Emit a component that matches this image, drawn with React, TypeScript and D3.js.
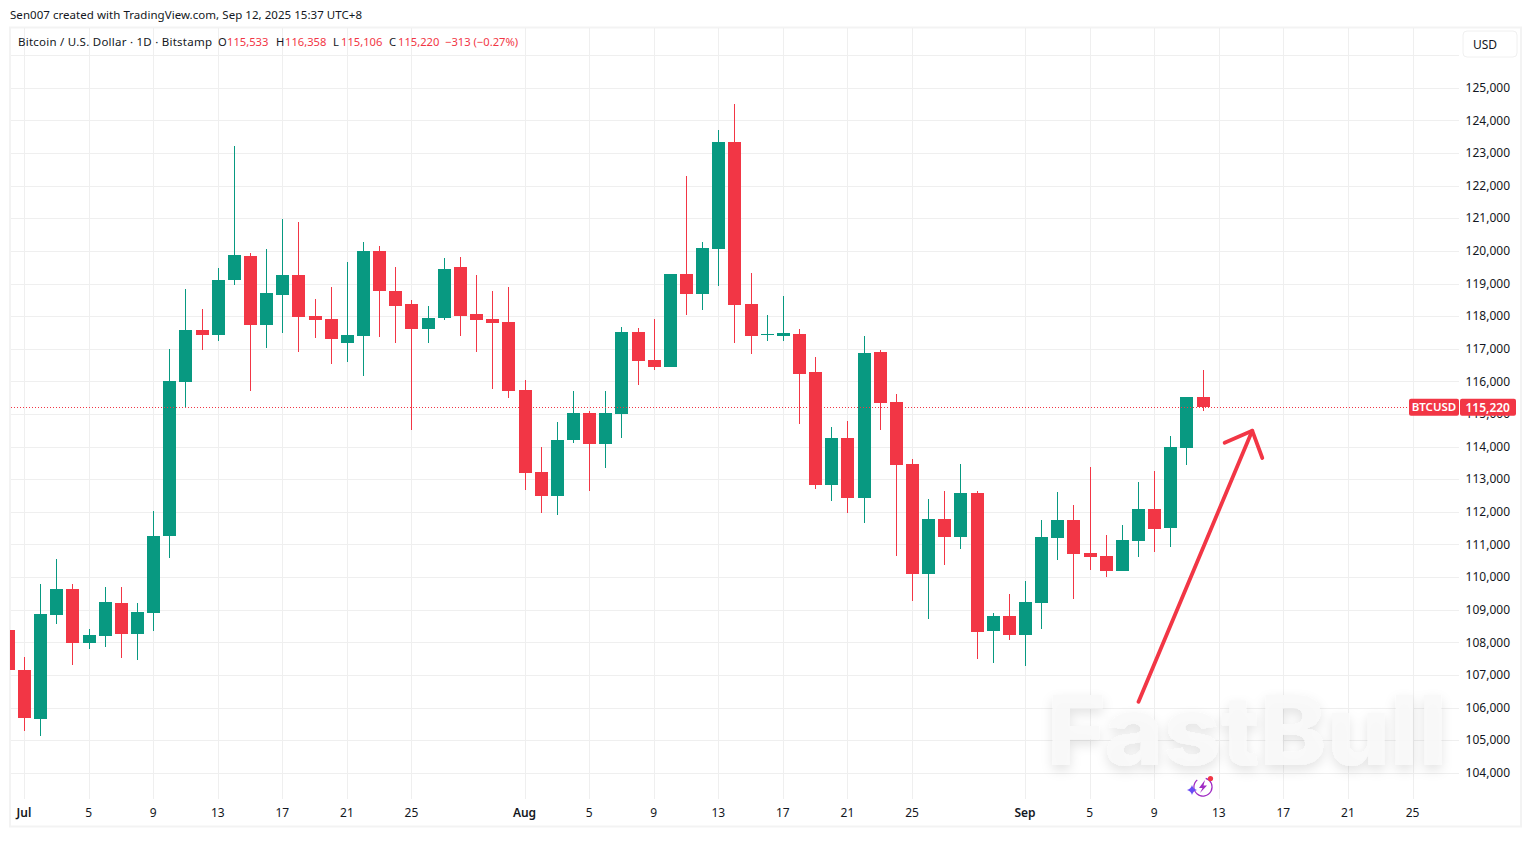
import React, { useEffect, useRef } from "react";
import * as d3 from "d3";

// daily candles, first one is Jun 30 (cut off by the left edge of the pane)
const firstDay = "2025-06-30";
const opens = [108394, 107167, 105666, 108854, 109651, 107995, 108210, 109222, 108271, 108915, 111275, 115996, 117590, 117437, 119123, 119859, 117744, 118663, 119277, 118020, 117928, 117192, 117407, 120012, 118786, 118388, 117621, 117958, 119522, 118081, 117928, 117836, 115751, 113237, 112502, 114218, 115046, 114096, 115015, 117529, 116671, 116456, 119307, 118694, 120074, 123354, 118388, 117437, 117407, 117468, 116303, 112839, 114280, 112440, 116916, 115383, 113483, 110111, 111796, 111245, 112594, 108363, 108823, 108241, 109222, 111214, 111766, 110754, 110662, 110202, 111122, 112103, 111521, 113973, 115533];
const highs = [108394, 107566, 109804, 110570, 109804, 108425, 109712, 109712, 109222, 112042, 117008, 118847, 118234, 119491, 123231, 119951, 120074, 120993, 120901, 118541, 118909, 119675, 120288, 120166, 119522, 118510, 118326, 119798, 119828, 119277, 118786, 118909, 116058, 114004, 114770, 115720, 115107, 115720, 117682, 117652, 117928, 119307, 122311, 120288, 123722, 124519, 119338, 118050, 118633, 117621, 116763, 114617, 114801, 117407, 116977, 115629, 113636, 112409, 112655, 113483, 112655, 108915, 109497, 109896, 111766, 112624, 112226, 113391, 111306, 111613, 112931, 113268, 114341, 115537, 116358];
const lows = [107167, 105298, 105144, 108578, 107318, 107811, 107872, 107535, 107474, 108363, 110601, 115230, 116977, 117253, 118970, 115720, 117039, 117499, 116916, 117345, 116548, 116610, 116180, 117376, 117192, 114525, 117192, 117897, 117407, 116916, 115782, 115506, 112686, 111980, 111919, 114127, 112655, 113360, 114280, 115904, 116364, 116456, 118050, 118204, 118939, 117192, 116855, 117253, 117253, 114709, 112716, 112348, 111980, 111674, 114525, 110662, 109283, 108731, 110386, 110877, 107505, 107382, 108087, 107290, 108425, 110540, 109344, 110233, 110018, 110202, 110632, 110785, 110938, 113452, 115106];
const closes = [107167, 105696, 108885, 109651, 107995, 108241, 109252, 108271, 108946, 111275, 116027, 117590, 117437, 119123, 119890, 117744, 118725, 119277, 117989, 117897, 117315, 117437, 120012, 118786, 118326, 117621, 117958, 119461, 118020, 117897, 117805, 115720, 113207, 112502, 114218, 115046, 114096, 115046, 117529, 116640, 116456, 119307, 118694, 120104, 123354, 118357, 117407, 117468, 117499, 116242, 112839, 114280, 112440, 116885, 115353, 113452, 110111, 111796, 111245, 112594, 108332, 108823, 108241, 109252, 111245, 111766, 110724, 110632, 110202, 111153, 112103, 111490, 114004, 115537, 115220];

const priceTicks = [104000, 105000, 106000, 107000, 108000, 109000, 110000, 111000, 112000, 113000, 114000, 115000, 116000, 117000, 118000, 119000, 120000, 121000, 122000, 123000, 124000, 125000];
const gridOnlyPrices = [126000];
const dateTicks = ["2025-07-01", "2025-07-05", "2025-07-09", "2025-07-13", "2025-07-17", "2025-07-21", "2025-07-25", "2025-08-01", "2025-08-05", "2025-08-09", "2025-08-13", "2025-08-17", "2025-08-21", "2025-08-25", "2025-09-01", "2025-09-05", "2025-09-09", "2025-09-13", "2025-09-17", "2025-09-21", "2025-09-25"];
const dateLabels = ["Jul", "5", "9", "13", "17", "21", "25", "Aug", "5", "9", "13", "17", "21", "25", "Sep", "5", "9", "13", "17", "21", "25"];

const lastPrice = 115220;
const headerParts = ["O", "115,533", "H", "116,358", "L", "115,106", "C", "115,220", "−313 (−0.27%)"];
const headerX = [218, 227, 276, 285, 333, 341, 389, 398, 445];

// hand drawn arrow, [date, price]
const arrowShaft = [["2025-09-08T00:00Z", 106195], ["2025-09-15T01:00Z", 114503]];
const arrowHead = [["2025-09-13T08:00Z", 114136], ["2025-09-15T01:00Z", 114503], ["2025-09-15T16:00Z", 113667]];

const font = "'Noto Sans', sans-serif";
const red = "#f23645";
const green = "#089981";
const textColor = "#131722";
const gridColor = "#efefef";

export default function App() {
  const svgRef = useRef<SVGSVGElement>(null);

  useEffect(() => {
    const svg: any = d3.select(svgRef.current);
    svg.selectAll("*").remove();
    svg.attr("font-family", font);

    const x = d3.scaleUtc()
      .domain([new Date("2025-07-01"), new Date("2025-09-25")])
      .range([24.5, 1413]);
    const y = d3.scaleLinear().domain([104000, 125000]).range([773.3, 88.3]);
    const day = (i: number) => d3.utcDay.offset(new Date(firstDay), i);
    const px = (d: Date) => Math.floor(x(d) - 6) + 6;

    const defs = svg.append("defs");
    defs.append("clipPath").attr("id", "pane")
      .append("rect").attr("x", 10).attr("y", 28).attr("width", 1449).attr("height", 771);
    const blur = defs.append("filter").attr("id", "wm").attr("x", "-10%").attr("y", "-20%").attr("width", "120%").attr("height", "150%");
    blur.append("feDropShadow").attr("dx", 0).attr("dy", 5).attr("stdDeviation", 6).attr("flood-color", "#000").attr("flood-opacity", 0.12);

    // frame
    svg.append("text").attr("x", 10).attr("y", 19).attr("font-size", 11.5).attr("fill", textColor)
      .attr("textLength", 352).text("Sen007 created with TradingView.com, Sep 12, 2025 15:37 UTC+8");
    svg.append("rect").attr("x", 10).attr("y", 27.5).attr("width", 1511).attr("height", 799)
      .attr("fill", "#fff").attr("stroke", "#f3f3f3").attr("stroke-width", 2);

    // grid
    const grid = svg.append("g").attr("stroke", gridColor).attr("shape-rendering", "crispEdges");
    grid.selectAll(".h").data([...priceTicks, ...gridOnlyPrices]).join("line").attr("class", "h")
      .attr("x1", 11).attr("x2", 1459)
      .attr("y1", (d: number) => y(d)).attr("y2", (d: number) => y(d));
    grid.selectAll(".v").data(dateTicks).join("line").attr("class", "v")
      .attr("y1", 28).attr("y2", 799)
      .attr("x1", (d: string) => px(new Date(d)) + 0.5).attr("x2", (d: string) => px(new Date(d)) + 0.5);

    // watermark
    svg.append("text").attr("x", 1047).attr("y", 765)
      .attr("font-family", "Inter, sans-serif").attr("font-weight", 800).attr("font-size", 96)
      .attr("textLength", 400).attr("lengthAdjust", "spacingAndGlyphs")
      .attr("fill", "#f9f9f9").attr("fill-opacity", 0.92).attr("filter", "url(#wm)")
      .text("FastBull");

    // candles
    const idx = d3.range(opens.length);
    const pane = svg.append("g").attr("clip-path", "url(#pane)").attr("shape-rendering", "crispEdges");
    const color = (i: number) => (closes[i] >= opens[i] ? green : red);
    const bandW = 13;
    pane.selectAll(".wick").data(idx).join("line").attr("class", "wick")
      .attr("x1", (i: number) => px(day(i)) + 0.5)
      .attr("x2", (i: number) => px(day(i)) + 0.5)
      .attr("y1", (i: number) => y(highs[i]))
      .attr("y2", (i: number) => y(lows[i]))
      .attr("stroke", color);
    pane.selectAll(".body").data(idx).join("rect").attr("class", "body")
      .attr("x", (i: number) => px(day(i)) - 6)
      .attr("width", bandW)
      .attr("y", (i: number) => y(Math.max(opens[i], closes[i])))
      .attr("height", (i: number) => Math.max(1, Math.abs(y(opens[i]) - y(closes[i]))))
      .attr("fill", color);

    // last price line
    svg.append("line").attr("x1", 11).attr("x2", 1409)
      .attr("y1", Math.round(y(lastPrice)) + 0.5).attr("y2", Math.round(y(lastPrice)) + 0.5)
      .attr("stroke", red).attr("stroke-dasharray", "1 2");

    // arrow
    const arrowLine = d3.line<any>().x((d) => x(new Date(d[0]))).y((d) => y(d[1]));
    svg.selectAll(".arrow").data([arrowShaft, arrowHead]).join("path").attr("class", "arrow")
      .attr("d", (d: any) => arrowLine(d)).attr("fill", "none")
      .attr("stroke", red).attr("stroke-width", 3.8).attr("stroke-linecap", "round").attr("stroke-linejoin", "round");

    // little badge under the watermark
    const badge = svg.append("g").attr("transform", "translate(1203,787)");
    badge.append("path").attr("d", d3.arc()({ innerRadius: 8.5, outerRadius: 9.7, startAngle: 0.3, endAngle: 5.6 }) as string).attr("fill", "#a02bc4");
    badge.append("path").attr("d", "M2,-7 L-4,1 L-0.5,1 L-3,6 L4,-1.5 L0.5,-1.5 Z").attr("fill", "#a02bc4");
    badge.append("path").attr("d", "M-11,-2 Q-10,2 -6,3 Q-10,4 -11,8 Q-12,4 -16,3 Q-12,2 -11,-2 Z").attr("fill", "#6a4cf5");
    badge.append("circle").attr("cx", 7.5).attr("cy", -8.5).attr("r", 2.6).attr("fill", red);

    // price axis
    svg.append("g").attr("font-size", 12).attr("fill", textColor).attr("text-anchor", "end")
      .selectAll("text").data(priceTicks).join("text")
      .attr("x", 1510).attr("y", (d: number) => y(d) - 0.6).attr("dy", "0.36em")
      .text((d: number) => d3.format(",")(d));

    svg.append("rect").attr("x", 1463).attr("y", 31).attr("width", 54).attr("height", 26).attr("rx", 4)
      .attr("fill", "#fff").attr("stroke", "#f0f0f0");
    svg.append("text").attr("x", 1473).attr("y", 48.5).attr("font-size", 12).attr("fill", textColor).text("USD");

    // time axis
    svg.append("g").attr("font-size", 12).attr("fill", textColor).attr("text-anchor", "middle")
      .selectAll("text").data(dateTicks).join("text")
      .attr("x", (d: string) => x(new Date(d)) - 0.5).attr("y", 817)
      .attr("font-weight", (_: string, i: number) => (isNaN(+dateLabels[i]) ? 600 : 400))
      .text((_: string, i: number) => dateLabels[i]);

    // header
    svg.append("text").attr("x", 18).attr("y", 46).attr("font-size", 11.5).attr("fill", textColor)
      .attr("textLength", 194).text("Bitcoin / U.S. Dollar · 1D · Bitstamp");
    svg.append("g").attr("font-size", 11.2)
      .selectAll("text").data(headerParts).join("text")
      .attr("x", (_: string, i: number) => headerX[i]).attr("y", 46)
      .attr("fill", (_: string, i: number) => (i % 2 === 0 && i < 8 ? textColor : red))
      .text((d: string) => d);

    // last price tags
    const tagY = y(lastPrice) - 8.5;
    const tags = svg.append("g");
    tags.append("rect").attr("x", 1409).attr("y", tagY).attr("width", 50).attr("height", 17).attr("rx", 2).attr("fill", red);
    tags.append("rect").attr("x", 1460).attr("y", tagY).attr("width", 56).attr("height", 17).attr("rx", 2).attr("fill", red);
    tags.append("text").attr("x", 1434).attr("y", y(lastPrice)).attr("dy", "0.36em").attr("text-anchor", "middle")
      .attr("font-size", 11.5).attr("font-weight", 600).attr("fill", "#fff").text("BTCUSD");
    tags.append("text").attr("x", 1510).attr("y", y(lastPrice)).attr("dy", "0.36em").attr("text-anchor", "end")
      .attr("font-size", 12).attr("font-weight", 600).attr("fill", "#fff").text(d3.format(",")(lastPrice));
  }, []);

  return (
    <svg
      ref={svgRef}
      width={1531}
      height={844}
      style={{ position: "absolute", left: 0, top: 0, display: "block", background: "#fff" }}
    />
  );
}
